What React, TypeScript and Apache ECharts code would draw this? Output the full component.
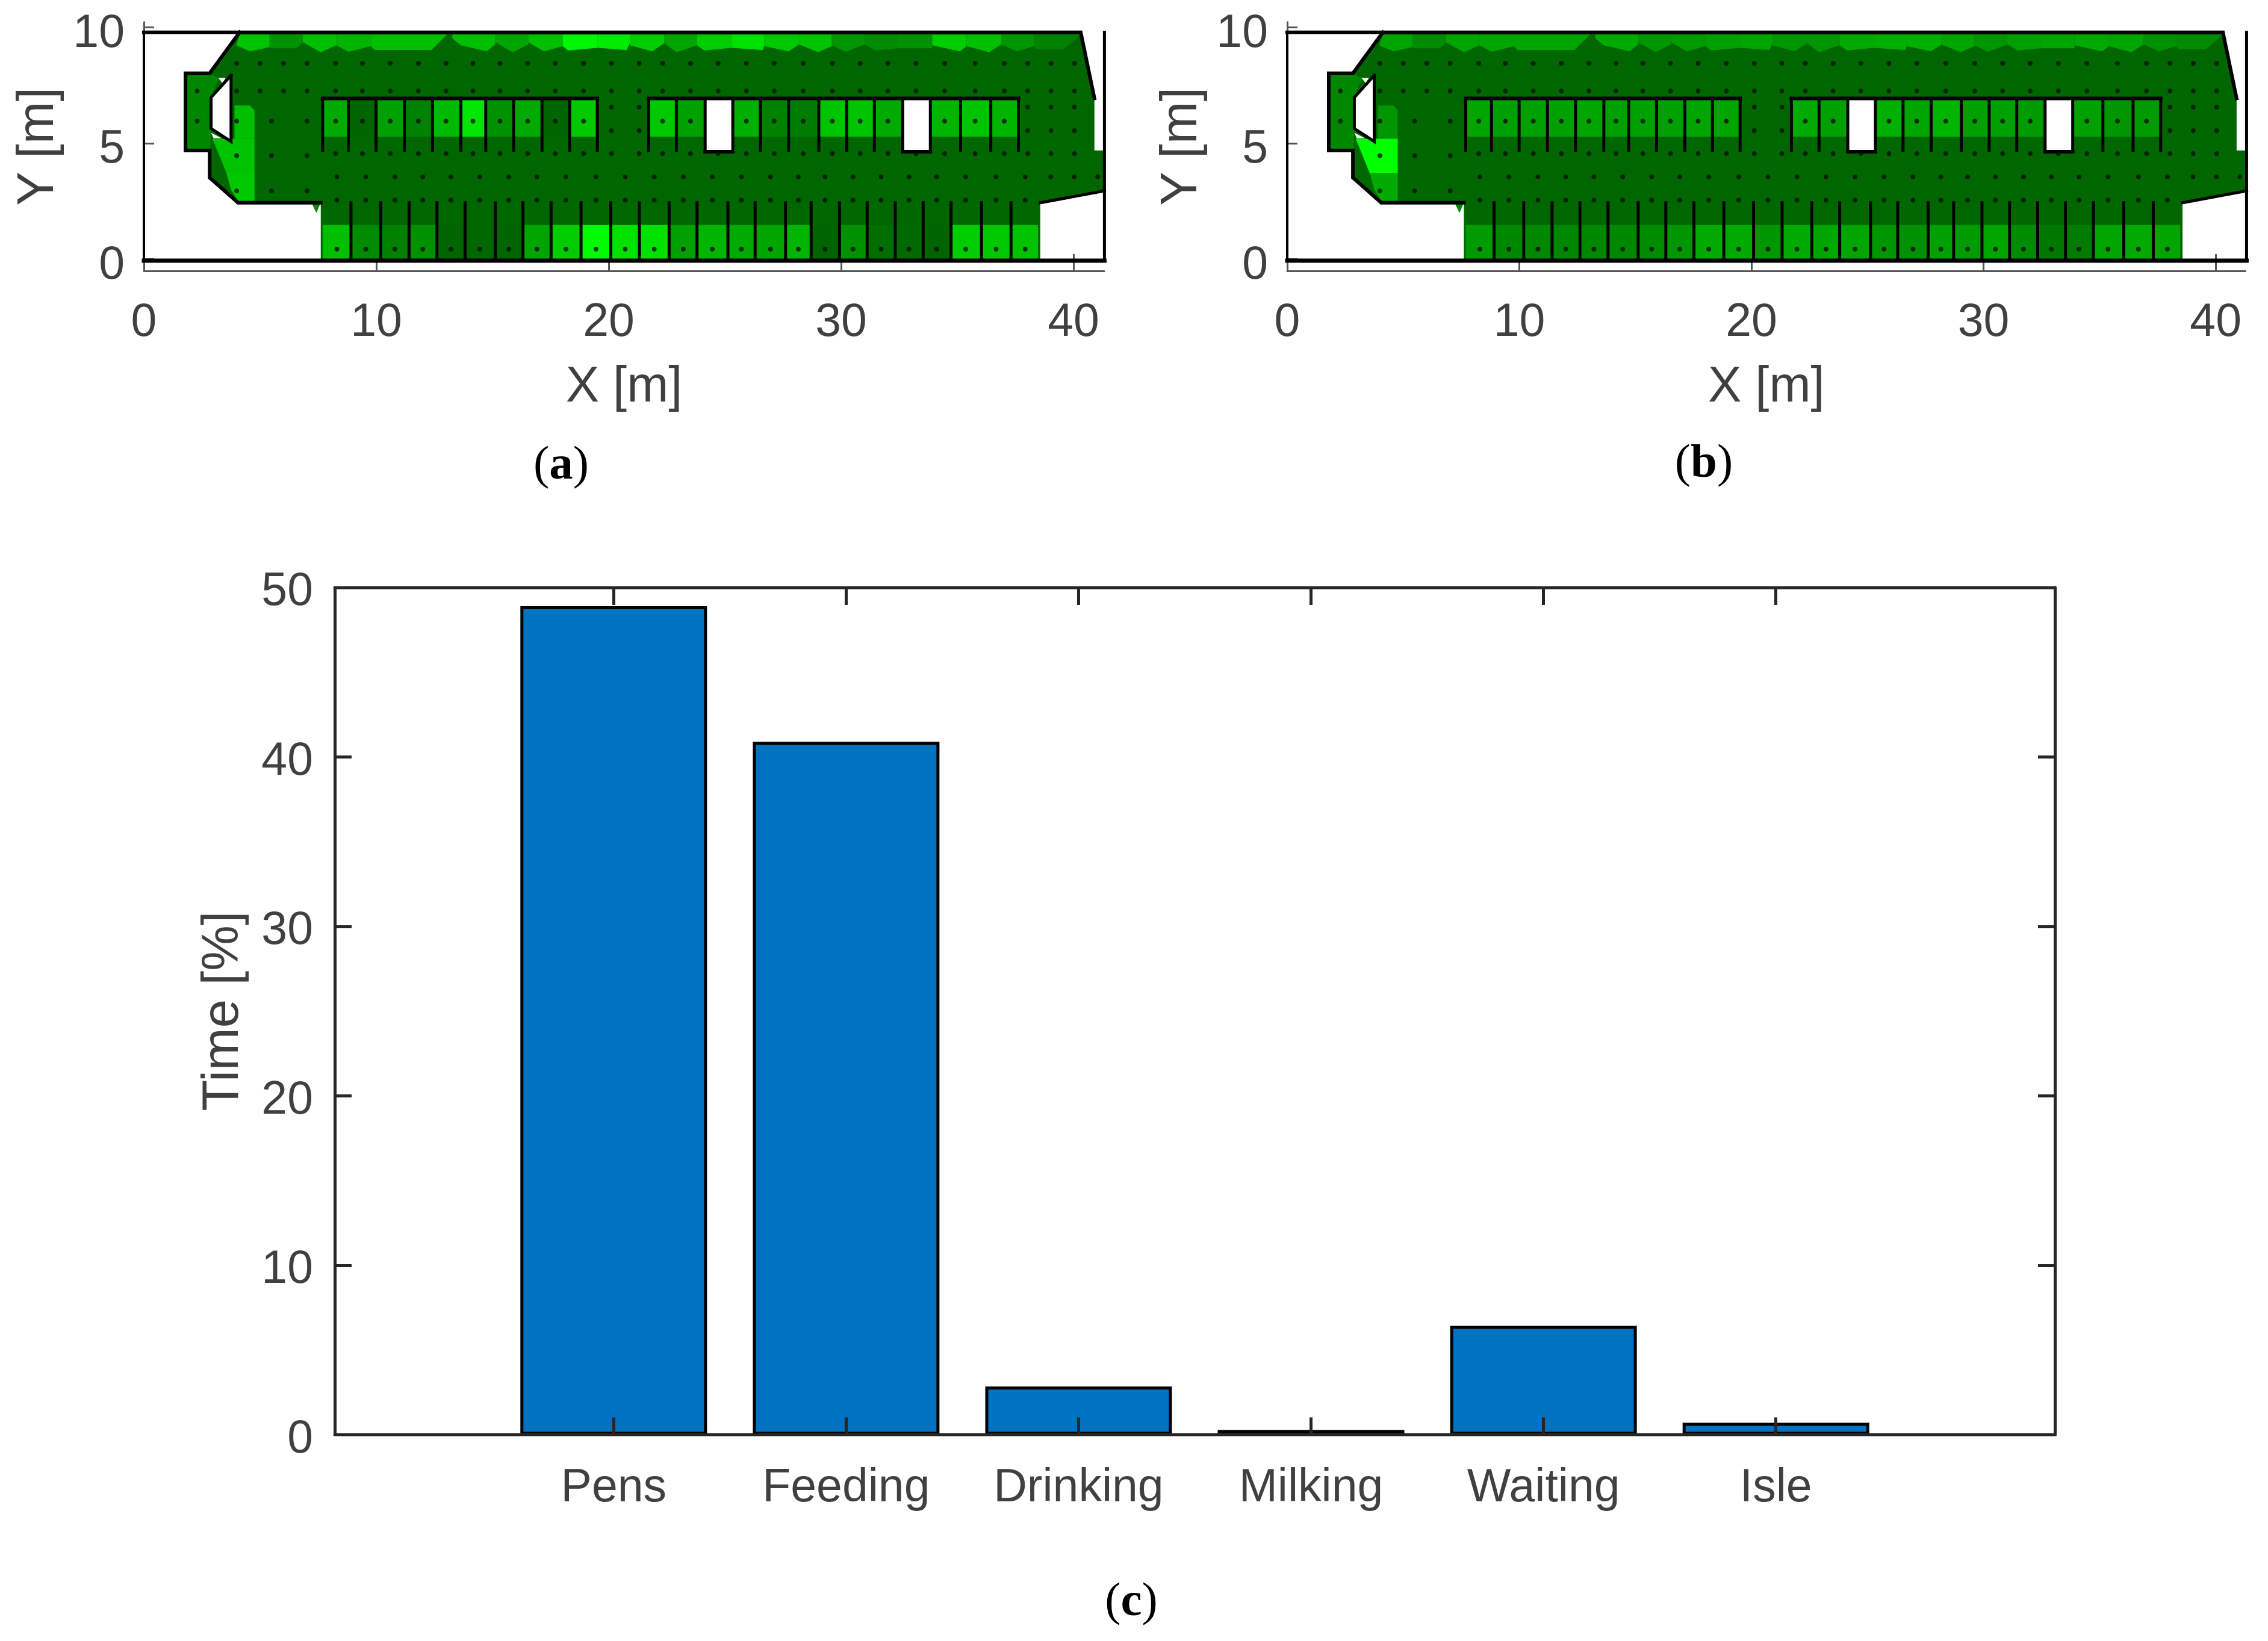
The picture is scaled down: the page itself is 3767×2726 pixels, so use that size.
import React, { useEffect, useRef } from "react";
import * as echarts from "echarts";

type Pt = [number, number];

// ---- bar panel (c)
const activities = ["Pens", "Feeding", "Drinking", "Milking", "Waiting", "Isle"];
const timePercent = [48.9, 40.9, 2.85, 0.28, 6.43, 0.71];
const timeTicks = [0, 10, 20, 30, 40, 50];

// ---- floor-plan geometry, metres
const xTicks = [0, 10, 20, 30, 40];
const yTicks = [0, 5, 10];
const floor: Pt[] = [[4.12, 9.79], [40.31, 9.79], [40.9, 6.94], [40.9, 4.69], [41.33, 4.69], [41.33, 2.95], [38.57, 2.44], [38.57, -0.06], [7.61, -0.06], [7.61, 2.44], [4.05, 2.44], [2.83, 3.52], [2.83, 4.69], [1.79, 4.69], [1.79, 8.02], [2.83, 8.02]];
const outlineLeft: Pt[] = [[4.12, 9.79], [2.83, 8.02], [1.79, 8.02], [1.79, 4.69], [2.83, 4.69], [2.83, 3.52], [4.05, 2.44], [7.61, 2.44]];
const outlineRight: Pt[] = [[0, 9.79], [40.31, 9.79], [40.9, 6.94]];
const outlineSE: Pt[] = [[38.57, 2.44], [41.33, 2.95]];
const wallEast: Pt[] = [[41.33, 9.79], [41.33, -0.06]];
const wallSouth: Pt[] = [[0, -0.06], [41.33, -0.06]];
const wallWest: Pt[] = [[0, 9.79], [0, -0.06]];
const hole: Pt[] = [[3.75, 7.93], [3.75, 5.08], [2.89, 5.64], [2.89, 6.98]];
const whiteSlivers: Pt[][] = [[[3.2, 7.82], [3.52, 7.82], [3.38, 7.6]], [[2.89, 5.46], [3.35, 5.22], [3.0, 5.22]]];
const leftBlock: Pt[] = [[1.79, 8.02], [2.83, 8.02], [3.22, 7.8], [2.89, 6.98], [2.89, 5.64], [2.85, 4.69], [1.79, 4.69]];
const spike: Pt[] = [[7.21, 2.44], [7.61, 2.44], [7.42, 2.0]];
const leftPatches: Pt[][] = [
  [[3.9, 6.63], [4.57, 6.63], [4.76, 6.42], [4.76, 5.2], [3.9, 5.2]],
  [[2.95, 5.2], [4.76, 5.2], [4.76, 3.73], [3.55, 3.73]],
  [[3.55, 3.73], [4.76, 3.73], [4.76, 2.52], [4.05, 2.52], [3.75, 3.0]],
];
const bandPatches: Pt[][] = [
  [[4.12, 9.69], [5.41, 9.69], [5.41, 9.15], [4.57, 8.97], [3.97, 9.23]],
  [[5.41, 9.69], [6.84, 9.69], [6.84, 9.36], [6.57, 9.1], [5.41, 9.1]],
  [[6.84, 9.69], [8.28, 9.69], [8.28, 9.23], [7.61, 8.93], [6.84, 9.36]],
  [[8.28, 9.69], [9.77, 9.69], [9.77, 9.19], [8.8, 8.95], [8.28, 9.23]],
  [[9.77, 9.69], [13.04, 9.69], [12.37, 9.03], [9.92, 9.03], [9.77, 9.19]],
  [[13.27, 9.69], [15.12, 9.69], [15.12, 9.27], [14.75, 8.97], [13.64, 9.23], [13.27, 9.53]],
  [[15.12, 9.69], [16.54, 9.69], [16.54, 9.27], [15.87, 8.93], [15.12, 9.36]],
  [[16.54, 9.69], [18.02, 9.69], [18.02, 9.19], [17.21, 8.97], [16.54, 9.36]],
  [[18.02, 9.69], [19.51, 9.69], [19.51, 9.12], [18.25, 9.01], [18.02, 9.19]],
  [[19.51, 9.69], [20.91, 9.69], [20.92, 9.36], [20.78, 9.03], [19.51, 9.12]],
  [[20.91, 9.69], [22.39, 9.69], [22.39, 9.32], [21.87, 8.97], [20.91, 9.23]],
  [[22.39, 9.69], [23.8, 9.69], [23.8, 9.23], [22.91, 8.93], [22.39, 9.32]],
  [[23.8, 9.69], [25.29, 9.69], [25.29, 9.12], [24.1, 9.01], [23.8, 9.23]],
  [[25.29, 9.69], [26.7, 9.69], [26.7, 9.23], [26.63, 9.03], [25.29, 9.12]],
  [[26.7, 9.69], [28.19, 9.69], [28.19, 9.27], [27.74, 8.97], [26.7, 9.19]],
  [[28.19, 9.69], [29.6, 9.69], [29.6, 9.19], [29.01, 8.93], [28.19, 9.27]],
  [[29.6, 9.69], [31.02, 9.69], [31.02, 9.27], [30.2, 8.95], [29.6, 9.23]],
  [[31.02, 9.69], [32.43, 9.69], [32.43, 9.1], [31.46, 9.01], [31.02, 9.27]],
  [[32.43, 9.69], [33.92, 9.69], [33.92, 9.1], [32.43, 9.1]],
  [[33.92, 9.69], [35.4, 9.69], [35.4, 9.19], [35.11, 8.97], [33.92, 9.23]],
  [[35.4, 9.69], [36.89, 9.69], [36.89, 9.27], [36.37, 8.93], [35.4, 9.19]],
  [[36.89, 9.69], [38.3, 9.69], [38.3, 9.19], [37.56, 8.97], [36.89, 9.27]],
  [[38.3, 9.69], [40.31, 9.69], [39.57, 9.06], [38.38, 9.06], [38.3, 9.19]],
];

const upperEdges = [7.69, 8.8, 9.99, 11.21, 12.42, 13.64, 14.71, 15.91, 17.13, 18.32, 19.51, 21.72, 22.91, 24.15, 25.34, 26.53, 27.74, 29.04, 30.24, 31.43, 32.65, 33.84, 35.14, 36.44, 37.63];
const lowerEdges = [7.69, 8.91, 10.19, 11.41, 12.61, 13.82, 15.12, 16.31, 17.52, 18.81, 20.09, 21.32, 22.6, 23.8, 25.13, 26.3, 27.61, 28.71, 29.93, 31.12, 32.33, 33.53, 34.73, 36.04, 37.31, 38.47];
const upperRoof = [[7.69, 19.51], [21.72, 37.63]];
const notches = [[24.15, 25.34], [32.65, 33.84]];
const upperColouredY = [6.89, 5.29];
const upperDividerY = [6.94, 4.69];
const notchFloorY = 4.64;
const lowerColouredY = [1.48, 0.0];
const lowerDividerY = [2.44, -0.06];

// ---- measured occupancy shown as green level; null = no cell (gap between edges or white stall)
const upperA = [170, 100, 160, 130, 185, 230, 145, 170, 100, 200, null, 200, 160, null, 175, 130, 125, 195, 195, 170, null, 180, 195, 180];
const upperB = [165, 160, 160, 160, 165, 160, 160, 160, 165, 165, null, 170, 160, null, 175, 165, 180, 160, 160, 155, null, 160, 150, 155];
const lowerA = [190, 140, 130, 145, 100, 103, 100, 165, 205, 250, 225, 225, 160, 180, 170, 165, 180, 100, 145, 110, 105, 100, 205, 200, 195];
const lowerB = [155, 135, 135, 135, 135, 135, 140, 150, 170, 170, 150, 170, 165, 165, 150, 145, 160, 155, 165, 140, 120, 125, 165, 170, 165];
const bandA = [195, 145, 190, 180, 190, 190, 165, 190, 245, 235, 205, 165, 205, 225, 200, 195, 150, 140, 145, 205, 190, 150, 130];
const bandB = [165, 140, 165, 165, 165, 170, 150, 155, 160, 165, 150, 150, 170, 175, 175, 165, 150, 160, 165, 170, 165, 145, 140];
const leftA = [190, 195, 200];
const leftB = [150, 255, 170];
const blockLevel = 135;
const floorLevel = 103;

// ---- sensor grid dots, metres
const fullRowX = [3.99, 5.0, 6.01, 7.02, 8.25, 9.4, 10.6, 11.81, 13.0, 14.16, 15.32, 16.51, 17.7, 18.92, 20.12, 21.31, 22.32, 23.52, 24.71, 25.92, 27.12, 28.37, 29.62, 30.82, 32.01, 33.22, 34.45, 35.77, 37.02, 38.03, 39.03, 40.04];
const stallRowX = [2.29, 3.99, 5.49, 7.02, 8.25, 9.4, 10.6, 11.81, 13.0, 14.16, 15.32, 16.51, 17.7, 18.92, 22.32, 23.52, 25.92, 27.12, 28.37, 29.62, 30.82, 32.01, 34.45, 35.77, 37.02];
const gapRowX = [20.12, 21.31, 38.03, 39.03, 40.04];
const mainRowX = [8.25, 9.4, 10.6, 11.81, 13.0, 14.16, 15.32, 16.51, 17.7, 18.92, 20.12, 21.31, 22.32, 23.52, 24.71, 25.92, 27.12, 28.37, 29.62, 30.82, 32.01, 33.22, 34.45, 35.77, 37.02, 38.03, 39.03, 40.04];
const wideRowX = [8.3, 9.55, 10.8, 12.0, 13.21, 14.45, 15.7, 16.91, 18.16, 19.45, 20.71, 21.96, 23.21, 24.46, 25.71, 26.96, 28.16, 29.31, 30.51, 31.72, 32.92, 34.11, 35.36, 36.67, 37.92];
const wideRowExtraX = [39.02, 40.03, 41.04];
const westRowX = [3.99, 5.49, 7.02];
const dotRows: [number, number[]][] = [
  [8.45, fullRowX],
  [7.26, fullRowX],
  [6.57, gapRowX],
  [5.96, stallRowX],
  [5.55, gapRowX],
  [4.56, mainRowX],
  [4.47, westRowX],
  [3.56, wideRowX.concat(wideRowExtraX)],
  [2.95, westRowX],
  [2.55, wideRowX],
  [0.44, wideRowX],
];

const FONT = "'Liberation Sans', Arial, sans-serif";
const TEXT = "#404040";
const green = (g: number) => `rgb(0,${g},0)`;

type Mark =
  | { kind: "fill"; pts: Pt[]; fill: string }
  | { kind: "line"; pts: Pt[]; width: number };

function plan(upper: (number | null)[], lower: number[], band: number[], left: number[]): Mark[] {
  const out: Mark[] = [];
  const fill = (pts: Pt[], fillColor: string) => out.push({ kind: "fill", pts, fill: fillColor });
  const line = (pts: Pt[], width = 6) => out.push({ kind: "line", pts, width });
  const rect = (x0: number, x1: number, y0: number, y1: number): Pt[] => [[x0, y0], [x1, y0], [x1, y1], [x0, y1]];

  fill(floor, green(floorLevel));
  fill(spike, green(blockLevel));
  fill(leftBlock, green(blockLevel));
  left.forEach((v, i) => fill(leftPatches[i], green(v)));
  band.forEach((v, i) => fill(bandPatches[i], green(v)));
  upper.forEach((v, i) => {
    if (v !== null) fill(rect(upperEdges[i], upperEdges[i + 1], upperColouredY[0], upperColouredY[1]), green(v));
  });
  lower.forEach((v, i) => fill(rect(lowerEdges[i], lowerEdges[i + 1], lowerColouredY[0], lowerColouredY[1]), green(v)));
  notches.forEach(([a, b]) => fill(rect(a, b, upperDividerY[0], notchFloorY), "#ffffff"));
  fill(hole, "#ffffff");
  whiteSlivers.forEach((p) => fill(p, "#ffffff"));

  upperEdges.forEach((x) => line([[x, upperDividerY[0]], [x, upperDividerY[1]]], 5));
  lowerEdges.slice(1, -1).forEach((x) => line([[x, lowerDividerY[0]], [x, lowerDividerY[1]]], 5));
  upperRoof.forEach(([a, b]) => line([[a, upperDividerY[0]], [b, upperDividerY[0]]]));
  notches.forEach(([a, b]) => line([[a, notchFloorY], [b, notchFloorY]]));
  line(outlineLeft);
  line(outlineRight);
  line(outlineSE, 5);
  line(wallEast, 5);
  line(wallSouth, 7);
  line(wallWest, 4);
  line([...hole, hole[0]], 5);
  return out;
}

function planSeries(gridIndex: number, marks: Mark[]) {
  return [
    {
      type: "custom",
      xAxisIndex: gridIndex,
      yAxisIndex: gridIndex,
      coordinateSystem: "cartesian2d",
      clip: false,
      silent: true,
      data: marks.map((m) => m.pts[0]),
      renderItem: (params: any, api: any) => {
        const m = marks[params.dataIndex];
        const points = m.pts.map((p) => api.coord(p));
        return m.kind === "fill"
          ? { type: "polygon", shape: { points }, style: { fill: m.fill } }
          : { type: "polyline", shape: { points }, style: { stroke: "#000", lineWidth: m.width, fill: null, lineCap: "square", lineJoin: "miter" } };
      },
    },
    {
      type: "scatter",
      xAxisIndex: gridIndex,
      yAxisIndex: gridIndex,
      symbolSize: 8,
      z: 5,
      silent: true,
      itemStyle: { color: "#061006" },
      data: dotRows.flatMap(([y, xs]) => xs.map((x) => [x, y])).concat([[2.29, 7.26]]),
    },
  ];
}

function planAxes(gridIndex: number, xMax: number) {
  return {
    x: {
      gridIndex,
      type: "value",
      min: 0,
      max: xMax,
      name: "X [m]",
      nameLocation: "middle",
      nameGap: 147,
      nameTextStyle: { fontFamily: FONT, fontSize: 83, color: TEXT },
      splitLine: { show: false },
      axisLine: { show: true, onZero: false, lineStyle: { color: "#555", width: 3 } },
      axisTick: { show: true, inside: true, length: 28, customValues: xTicks, lineStyle: { color: "#555", width: 3 } },
      axisLabel: { customValues: xTicks, fontFamily: FONT, fontSize: 77, color: TEXT, margin: 42 },
    },
    y: {
      gridIndex,
      type: "value",
      min: -0.5,
      max: 10.23,
      name: "Y [m]",
      nameLocation: "middle",
      nameGap: 138,
      nameTextStyle: { fontFamily: FONT, fontSize: 85, color: TEXT },
      splitLine: { show: false },
      axisLine: { show: true, onZero: false, lineStyle: { color: "#555", width: 3 } },
      axisTick: { show: true, inside: true, length: 17, customValues: yTicks, lineStyle: { color: "#555", width: 3 } },
      axisLabel: { customValues: yTicks, fontFamily: FONT, fontSize: 77, color: TEXT, margin: 32, verticalAlign: "top", lineHeight: 10 },
    },
  };
}

const panelTag = (letter: string, x: number, y: number) => ({
  type: "text",
  x,
  y,
  style: {
    text: `{p|(}{b|${letter}}{p|)}`,
    align: "center",
    verticalAlign: "middle",
    rich: {
      p: { fontFamily: "'Liberation Serif', serif", fontSize: 79, fill: "#000", fontWeight: "normal" },
      b: { fontFamily: "'Liberation Serif', serif", fontSize: 79, fill: "#000", fontWeight: "bold" },
    },
  },
});

export default function App() {
  const ref = useRef<HTMLDivElement>(null);
  useEffect(() => {
    const chart = echarts.init(ref.current!, undefined, { renderer: "svg" });
    const a = planAxes(0, 41.32);
    const b = planAxes(1, 41.28);
    const axisColor = "#262626";
    const barLineStyle = { color: axisColor, width: 5 };
    const categoryTicks = activities.map((_, i) => i + 1);
    chart.setOption({
      animation: false,
      backgroundColor: "#fff",
      grid: [
        { left: 239, top: 36.7, width: 1595, height: 413.3 },
        { left: 2138, top: 36.7, width: 1591.5, height: 413.3 },
        { left: 556, top: 976, width: 2857, height: 1407.5 },
      ],
      xAxis: [
        a.x,
        b.x,
        {
          gridIndex: 2,
          type: "value",
          min: -0.2,
          max: 7.2,
          z: 10,
          splitLine: { show: false },
          axisLine: { show: true, onZero: false, lineStyle: barLineStyle },
          axisTick: { show: true, inside: true, length: 29, customValues: categoryTicks, lineStyle: barLineStyle },
          axisLabel: {
            customValues: categoryTicks,
            formatter: (v: number) => activities[v - 1],
            fontFamily: FONT,
            fontSize: 77,
            color: TEXT,
            margin: 45,
          },
        },
        {
          gridIndex: 2,
          type: "value",
          position: "top",
          min: -0.2,
          max: 7.2,
          z: 10,
          splitLine: { show: false },
          axisLine: { show: true, onZero: false, lineStyle: barLineStyle },
          axisTick: { show: true, inside: true, length: 29, customValues: categoryTicks, lineStyle: barLineStyle },
          axisLabel: { show: false },
        },
      ],
      yAxis: [
        a.y,
        b.y,
        {
          gridIndex: 2,
          type: "value",
          min: 0,
          max: 50,
          z: 10,
          name: "Time [%]",
          nameLocation: "middle",
          nameGap: 148,
          nameTextStyle: { fontFamily: FONT, fontSize: 85, color: TEXT },
          splitLine: { show: false },
          axisLine: { show: true, onZero: false, lineStyle: barLineStyle },
          axisTick: { show: true, inside: true, length: 28, customValues: timeTicks, lineStyle: barLineStyle },
          axisLabel: { customValues: timeTicks, fontFamily: FONT, fontSize: 77, color: TEXT, margin: 36, verticalAlign: "top", lineHeight: 4 },
        },
        {
          gridIndex: 2,
          type: "value",
          position: "right",
          min: 0,
          max: 50,
          z: 10,
          splitLine: { show: false },
          axisLine: { show: true, onZero: false, lineStyle: barLineStyle },
          axisTick: { show: true, inside: true, length: 28, customValues: timeTicks, lineStyle: barLineStyle },
          axisLabel: { show: false },
        },
      ],
      series: [
        ...planSeries(0, plan(upperA, lowerA, bandA, leftA)),
        ...planSeries(1, plan(upperB, lowerB, bandB, leftB)),
        {
          type: "bar",
          xAxisIndex: 2,
          yAxisIndex: 2,
          barWidth: 310,
          silent: true,
          itemStyle: { color: "#0072C2", borderColor: "#000", borderWidth: 5 },
          data: timePercent.map((v, i) => [i + 1, v]),
        },
      ],
      graphic: [panelTag("a", 932, 768), panelTag("b", 2830, 765), panelTag("c", 1879, 2656)],
    });
    return () => chart.dispose();
  }, []);
  return <div ref={ref} style={{ position: "absolute", left: 0, top: 0, width: 3767, height: 2726, background: "#fff" }} />;
}
